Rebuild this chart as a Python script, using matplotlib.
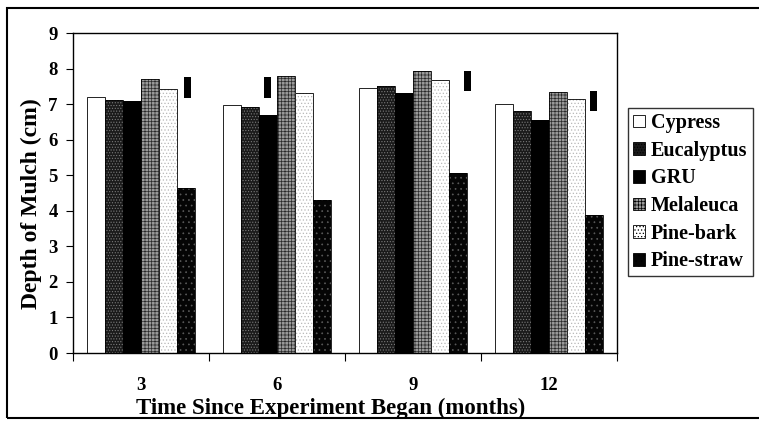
import numpy as np
import matplotlib
matplotlib.use("Agg")
import matplotlib.pyplot as plt
from matplotlib.patches import Rectangle, Patch

plt.rcParams['font.family'] = ['Liberation Serif', 'DejaVu Serif']
plt.rcParams['font.weight'] = 'bold'
plt.rcParams['axes.labelweight'] = 'bold'
plt.rcParams['hatch.linewidth'] = 0.5

months = ['3', '6', '9', '12']
mulches = ['Cypress', 'Eucalyptus', 'GRU', 'Melaleuca', 'Pine-bark', 'Pine-straw']
depth = {
    'Cypress':    [7.20, 6.98, 7.45, 7.00],
    'Eucalyptus': [7.12, 6.93, 7.52, 6.80],
    'GRU':        [7.10, 6.68, 7.30, 6.55],
    'Melaleuca':  [7.72, 7.80, 7.92, 7.35],
    'Pine-bark':  [7.42, 7.30, 7.68, 7.15],
    'Pine-straw': [4.63, 4.30, 5.05, 3.87],
}
# LSD marks drawn above each group
lsd_low = [7.18, 7.18, 7.38, 6.80]
lsd_high = [7.75, 7.75, 7.94, 7.38]
lsd_offset = [0.34, -0.07, 0.40, 0.33]

# face, hatch, hatch colour
styles = {
    'Cypress':    ('white', None, 'black'),
    'Eucalyptus': ('#1a1a1a', '......', '#7a7a7a'),
    'GRU':        ('black', None, 'black'),
    'Melaleuca':  ('#9a9a9a', '+++++', '#2a2a2a'),
    'Pine-bark':  ('white', '.....', '#b8b8b8'),
    'Pine-straw': ('#050505', '...', '#5a5a5a'),
}

fig = plt.figure(figsize=(7.59, 4.30), dpi=100)
ax = fig.add_axes([73 / 759, 1 - 353 / 430, 544 / 759, 320 / 430])

x = np.arange(len(months))
w = 1 / 7.5
for i, m in enumerate(mulches):
    face, hatch, hcol = styles[m]
    pos = x - 2.5 * w + i * w
    ax.bar(pos, depth[m], w, color=face, hatch=hatch, edgecolor=hcol, linewidth=0)
    ax.bar(pos, depth[m], w, fill=False, edgecolor='black', linewidth=0.6)

ax.bar(x + np.array(lsd_offset), np.array(lsd_high) - np.array(lsd_low), 0.05,
       bottom=lsd_low, color='black', linewidth=0)

ax.set_xlim(-0.5, 3.5)
ax.set_ylim(0, 9)
ax.set_yticks(range(10))
ax.set_xticks(np.arange(-0.5, 4, 1))
ax.set_xticklabels([])
ax.set_xticks(x, minor=True)
ax.set_xticklabels(months, minor=True, fontsize=13.5)
ax.tick_params(axis='x', which='minor', length=0, pad=17)
ax.tick_params(axis='x', which='major', length=6, direction='out')
ax.tick_params(axis='y', length=5, direction='out', labelsize=13.5, pad=6)
for s in ax.spines.values():
    s.set_linewidth(1.0)

ax.set_xlabel('Time Since Experiment Began (months)', fontsize=16.5)
ax.set_ylabel('Depth of Mulch (cm)', fontsize=17)
ax.xaxis.set_label_coords(0.473, -0.14)
ax.yaxis.set_label_coords(-0.057, 0.466)

handles = [Patch(facecolor=styles[m][0], hatch=styles[m][1], edgecolor='black', linewidth=0.6)
           for m in mulches]
leg = fig.legend(handles, mulches, loc='upper left', bbox_to_anchor=(628 / 759, 1 - 108 / 430),
                 fontsize=14.5, frameon=True, fancybox=False, edgecolor='black',
                 handlelength=0.6, handleheight=0.6, handletextpad=0.3,
                 borderpad=0.25, labelspacing=0.38, borderaxespad=0)
leg.get_frame().set_linewidth(1.0)

fig.patches.append(Rectangle((7 / 759, 1 - 418 / 430), 1.0, 410 / 430, transform=fig.transFigure,
                             fill=False, edgecolor='black', linewidth=1.5))

fig.savefig('out.png', dpi=100)
